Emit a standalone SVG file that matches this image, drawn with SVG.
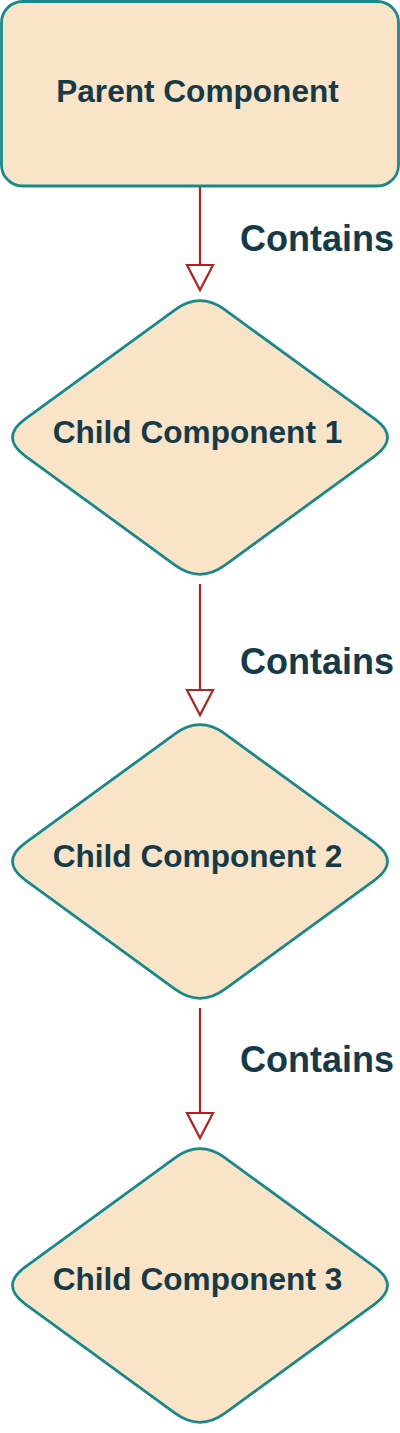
<svg xmlns="http://www.w3.org/2000/svg" width="400" height="1433" viewBox="0 0 400 1433">
<style>
.node{fill:#f9e4c7;stroke:#17898a;stroke-width:2.8}
.lbl{font-family:"Liberation Sans",Arial,sans-serif;font-weight:bold;font-size:31.6px;fill:#153a48;text-anchor:middle}
.elbl{font-family:"Liberation Sans",Arial,sans-serif;font-weight:bold;font-size:36px;fill:#153a48}
.edge{stroke:#b22222;stroke-width:2.2;fill:none}
</style>
<defs>
<marker id="tri" markerUnits="userSpaceOnUse" markerWidth="32" markerHeight="32" viewBox="-3 -16 32 32" refX="25" refY="0" orient="auto">
<path d="M0,-13 L25,0 L0,13 Z" fill="#ffffff" stroke="#b22222" stroke-width="2.2" stroke-linejoin="miter"/>
</marker>
<path id="dia" d="M175,-127.7 Q200,-146 225,-127.7 L375,-18.3 Q400,0 375,18.3 L225,127.7 Q200,146 175,127.7 L25,18.3 Q0,0 25,-18.3 Z"/>
</defs>
<rect width="400" height="1433" fill="#ffffff"/>
<g id="edges">
<line class="edge" x1="200" y1="187" x2="200" y2="290" marker-end="url(#tri)"/>
<text class="elbl" x="240" y="251">Contains</text>
<line class="edge" x1="200" y1="584" x2="200" y2="715" marker-end="url(#tri)"/>
<text class="elbl" x="240" y="674">Contains</text>
<line class="edge" x1="200" y1="1008" x2="200" y2="1138" marker-end="url(#tri)"/>
<text class="elbl" x="240" y="1072">Contains</text>
</g>
<g id="parent">
<rect class="node" x="1.5" y="1.5" width="397" height="184.5" rx="21" ry="21"/>
<text class="lbl" x="197.5" y="102">Parent Component</text>
</g>
<g id="child1">
<use href="#dia" class="node" transform="translate(0,437.5)"/>
<text class="lbl" x="197.5" y="443">Child Component 1</text>
</g>
<g id="child2">
<use href="#dia" class="node" transform="translate(0,861.5)"/>
<text class="lbl" x="197.5" y="867">Child Component 2</text>
</g>
<g id="child3">
<use href="#dia" class="node" transform="translate(0,1285.5)"/>
<text class="lbl" x="197.5" y="1290">Child Component 3</text>
</g>
</svg>
